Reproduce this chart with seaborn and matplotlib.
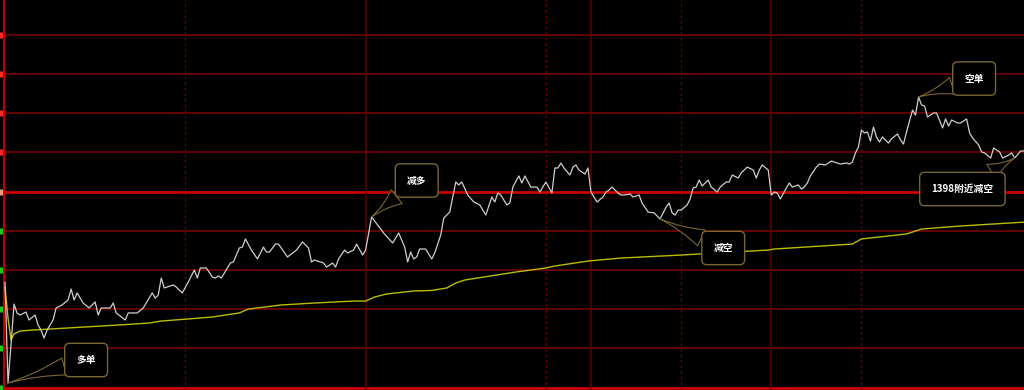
import numpy as np
import pandas as pd
import matplotlib
matplotlib.use("Agg")
import matplotlib.pyplot as plt
import seaborn as sns

# ---------------- data (minute index, price) ----------------
price_minute = [0, 1, 2, 3, 4, 5, 7, 8, 10, 11, 12, 13, 14, 16, 17, 19, 21, 22, 23, 24,
                26, 28, 30, 31, 32, 35, 36, 37, 40, 41, 42, 44, 46, 48, 49, 50, 51, 52, 53, 56,
                57, 59, 61, 63, 64, 65, 67, 69, 70, 71, 72, 74, 75, 76, 78, 79, 80, 82, 84, 86,
                87, 88, 90, 91, 94, 97, 99, 101, 102, 103, 106, 107, 109, 110, 111, 113, 114, 116, 117, 119,
                120, 122, 124, 126, 129, 131, 133, 134, 135, 136, 137, 138, 140, 142, 143, 145, 146, 148, 150, 151,
                152, 154, 156, 158, 160, 162, 163, 164, 165, 167, 168, 169, 171, 172, 173, 175, 177, 178, 180, 182,
                183, 184, 185, 186, 188, 189, 190, 191, 193, 194, 195, 197, 199, 200, 201, 202, 204, 205, 206, 208,
                209, 211, 212, 214, 216, 217, 218, 220, 221, 222, 223, 224, 225, 227, 228, 229, 230, 231, 232, 234,
                235, 237, 238, 240, 241, 242, 244, 245, 247, 249, 250, 251, 252, 254, 255, 256, 257, 258, 260, 261,
                262, 264, 265, 266, 267, 268, 270, 271, 273, 275, 277, 278, 280, 281, 282, 283, 284, 285, 286, 287,
                288, 289, 290, 291, 292, 294, 295, 297, 298, 299, 300, 302, 303, 304, 305, 306, 307, 309, 310, 312,
                313, 314, 315, 317, 318, 320, 321, 322, 324, 325, 326, 328, 329, 331, 332, 334, 335, 336, 338, 340]
price = [1388.08, 1380.35, 1383.26, 1386.39, 1385.71, 1385.55, 1385.78, 1385.17, 1385.55, 1384.79,
         1384.40, 1383.79, 1384.40, 1385.17, 1386.09, 1386.32, 1386.70, 1387.54, 1386.70, 1387.24,
         1386.47, 1386.09, 1386.55, 1385.55, 1386.09, 1386.09, 1386.47, 1385.71, 1385.17, 1385.71,
         1385.71, 1385.71, 1386.09, 1386.85, 1387.24, 1386.85, 1387.08, 1388.38, 1387.62, 1387.85,
         1387.69, 1387.24, 1388.08, 1388.99, 1388.38, 1389.15, 1389.15, 1388.46, 1388.38, 1388.54,
         1388.38, 1389.15, 1389.53, 1389.61, 1390.68, 1390.75, 1391.37, 1390.52, 1389.84, 1390.75,
         1390.37, 1390.37, 1390.98, 1390.98, 1389.99, 1390.52, 1391.14, 1390.68, 1389.61, 1389.76,
         1389.53, 1389.22, 1389.53, 1389.22, 1389.84, 1390.52, 1390.30, 1390.52, 1390.98, 1390.14,
         1390.52, 1393.05, 1392.44, 1391.83, 1391.06, 1391.83, 1390.75, 1389.61, 1390.37, 1389.84,
         1389.99, 1390.60, 1390.60, 1389.84, 1390.30, 1391.67, 1392.97, 1393.43, 1395.73, 1395.50,
         1395.73, 1394.73, 1394.20, 1393.97, 1393.20, 1394.58, 1394.20, 1394.89, 1394.73, 1393.97,
         1394.12, 1395.34, 1396.19, 1395.65, 1396.19, 1395.34, 1395.34, 1394.96, 1395.73, 1394.89,
         1396.80, 1396.80, 1397.18, 1396.80, 1396.26, 1396.87, 1397.03, 1396.64, 1396.34, 1396.80,
         1394.96, 1394.20, 1394.58, 1394.96, 1395.11, 1395.34, 1394.89, 1394.73, 1394.73, 1394.81,
         1394.58, 1394.73, 1394.12, 1393.43, 1393.36, 1393.13, 1392.90, 1393.81, 1394.12, 1393.36,
         1393.20, 1393.58, 1393.58, 1393.97, 1394.43, 1395.27, 1395.34, 1395.88, 1395.42, 1395.88,
         1395.34, 1394.96, 1395.34, 1395.73, 1395.73, 1396.26, 1396.03, 1396.42, 1396.87, 1396.64,
         1396.03, 1396.64, 1397.03, 1396.64, 1394.73, 1394.96, 1394.89, 1394.43, 1395.27, 1395.65,
         1395.34, 1395.50, 1395.19, 1395.34, 1395.65, 1396.19, 1396.87, 1397.10, 1397.03, 1397.33,
         1397.18, 1397.10, 1397.18, 1397.10, 1397.26, 1397.95, 1398.40, 1399.70, 1399.48, 1399.55,
         1398.86, 1399.93, 1399.17, 1398.79, 1399.17, 1398.71, 1399.02, 1399.40, 1398.94, 1398.63,
         1399.55, 1401.23, 1400.85, 1402.23, 1401.62, 1401.54, 1400.70, 1401.01, 1401.01, 1399.86,
         1400.55, 1400.01, 1400.47, 1400.24, 1400.24, 1400.55, 1399.48, 1399.09, 1398.56, 1398.02,
         1397.95, 1397.56, 1398.33, 1398.02, 1397.56, 1397.79, 1397.95, 1397.56, 1398.10, 1398.10]

avg_minute = [0, 1, 2, 3, 5, 9, 15, 21, 32, 43, 48, 52, 61, 69, 78, 81, 92, 103, 116, 120,
              123, 127, 136, 142, 147, 150, 153, 170, 180, 183, 194, 205, 225, 254, 256, 282, 285, 300, 305, 318,
              340]
avg_price = [1387.69, 1385.32, 1383.64, 1384.10, 1384.33, 1384.40, 1384.48, 1384.56, 1384.71, 1384.86,
             1384.94, 1385.09, 1385.25, 1385.40, 1385.71, 1386.01, 1386.32, 1386.47, 1386.62, 1386.62,
             1386.93, 1387.16, 1387.39, 1387.43, 1387.62, 1388.00, 1388.23, 1388.84, 1389.15, 1389.30,
             1389.68, 1389.91, 1390.14, 1390.52, 1390.60, 1390.98, 1391.37, 1391.75, 1392.13, 1392.36,
             1392.67]

prev_close = 1395.0
grid_levels = [1380, 1383, 1386, 1389, 1392, 1395, 1398, 1401, 1404, 1407]
solid_minutes = [120, 195, 255]       # session breaks
dashed_minutes = [60, 180, 225, 285]  # hour marks

notes = ["多单", "减多", "减空", "空单", "1398附近减空"]
note_minute = [1, 122, 218, 304, 336]   # minute of the marked point

# ---------------- style ----------------
sns.set_theme(style="dark", rc={"axes.facecolor": "black", "figure.facecolor": "black"})
plt.rcParams["font.family"] = ["Noto Sans CJK SC", "DejaVu Sans"]

fig = plt.figure(figsize=(10.24, 3.90), dpi=100)
ax = fig.add_axes([0, 0, 1, 1])
ax.set_facecolor("black")
ax.set_xlim(-1.664, 339.1)
ax.set_ylim(1379.815, 1409.65)
for s in ax.spines.values():
    s.set_visible(False)
ax.set_xticks([])
ax.set_yticks([])

# horizontal grid
for lv in grid_levels:
    if lv == prev_close:
        ax.axhline(lv, color="#c80000", lw=2.0, zorder=1)
    elif lv == grid_levels[0]:
        ax.axhline(lv, color="#d00000", lw=2.0, zorder=1)
    else:
        ax.axhline(lv, color="#640000", lw=1.4, zorder=1)

# vertical lines
for m in solid_minutes:
    ax.axvline(m, color="#5c0000", lw=1.2, zorder=1)
for m in dashed_minutes:
    ax.axvline(m, color="#6a0000", lw=1.0, ls=(0, (2, 2)), zorder=1)
ax.axvline(-0.33, color="#c00000", lw=1.5, zorder=1)

# left colored tick stubs
ytr = ax.get_yaxis_transform()
for lv in grid_levels:
    c = "#ff2a2a" if lv > prev_close else ("#e8a080" if lv == prev_close else "#1ec81e")
    ax.plot([0.0012], [lv], marker="|", ms=5, mew=2.2, color=c, transform=ytr, zorder=3, clip_on=False)

# lines
sns.lineplot(x=avg_minute, y=avg_price, ax=ax, color="#bcbc00", lw=1.0, zorder=4, estimator=None)
sns.lineplot(x=price_minute, y=price, ax=ax, color="#cfcfcf", lw=0.9, zorder=5, estimator=None)

# callouts
gold = "#7a6630"
text_pos = [(27, 1382.11), (137, 1395.84), (239, 1390.68), (322.5, 1403.64), (318.6, 1395.19)]
for txt, m, (tx, ty) in zip(notes, note_minute, text_pos):
    k = price_minute.index(m)
    ax.annotate(txt, xy=(m, price[k]), xytext=(tx, ty), textcoords="data",
                ha="center", va="center", color="white", fontsize=7, fontweight="bold",
                bbox=dict(boxstyle="round,pad=1.2,rounding_size=0.5", fc="black", ec=gold, lw=1.0),
                arrowprops=dict(arrowstyle="wedge,tail_width=1.8,shrink_factor=0.3",
                                fc="black", ec=gold, lw=0.8, shrinkA=0, shrinkB=0),
                zorder=6)

fig.savefig("out.png", dpi=100, facecolor="black")
